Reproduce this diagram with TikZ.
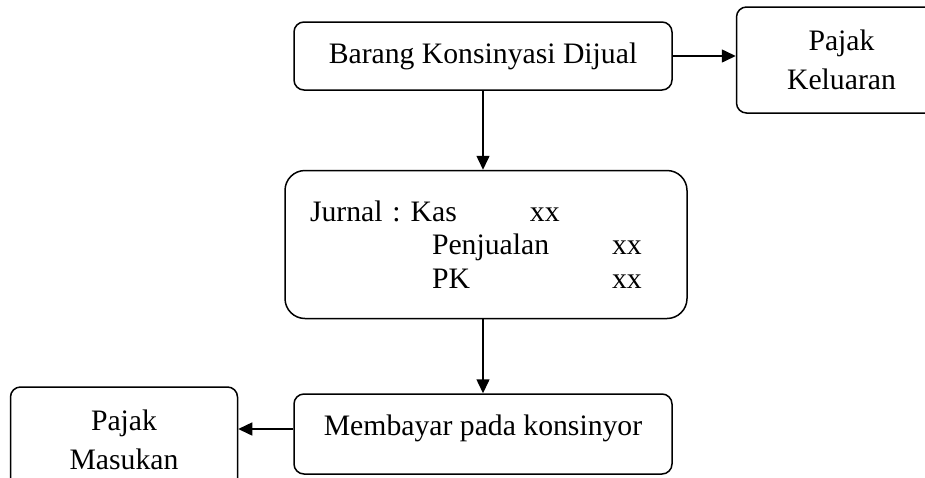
\documentclass[tikz,border=0pt]{standalone}
\usepackage{fontspec}
\setmainfont{Liberation Serif}
\usetikzlibrary{arrows.meta,positioning}
\begin{document}
\frenchspacing
\begin{tikzpicture}[
  x=0.5pt,y=-0.5pt,
  >=Triangle,
  flowbox/.style={rectangle,rounded corners=5pt,draw=black,line width=0.75pt,
    align=center,inner sep=0pt,font=\fontsize{14.85pt}{19.75pt}\selectfont},
  jurnalbox/.style={flowbox,rounded corners=10pt,align=left,text width=176pt,
    inner xsep=12.5pt,minimum height=74pt,
    font=\fontsize{14.85pt}{16.75pt}\selectfont},
  arrow/.style={-{Triangle[length=7pt,width=6.5pt]},line width=0.75pt}
]
% ── Bingkai gambar ──────────────────────────────────────────────────────────
\useasboundingbox (0,0) rectangle (925,477);
\clip (0,0) rectangle (925,477);

% ── Node alur ───────────────────────────────────────────────────────────────
\node[flowbox,minimum width=189pt,minimum height=34pt]
  (dijual) at (483,56) {Barang Konsinyasi Dijual};
\node[flowbox,minimum width=105pt,minimum height=53pt,right=31.5pt of dijual,yshift=-2pt]
  (keluaran) {Pajak\\Keluaran};
\node[jurnalbox,below=39.5pt of dijual,xshift=1.5pt]
  (jurnal) {\makebox[110pt][l]{Jurnal : Kas}xx\\
            \hspace*{61pt}\makebox[90pt][l]{Penjualan}xx\\
            \hspace*{61pt}\makebox[90pt][l]{PK}xx};
\node[flowbox,minimum width=189pt,minimum height=40pt,text depth=9pt,
  below=37pt of jurnal,xshift=-1.5pt]
  (bayar) {Membayar pada konsinyor};
\node[flowbox,minimum width=113.5pt,minimum height=53pt,left=27.5pt of bayar,yshift=-3pt]
  (masukan) {Pajak\\Masukan};

% ── Panah ───────────────────────────────────────────────────────────────────
\draw[arrow] (dijual.east) -- (dijual.east -| keluaran.west);
\draw[arrow] (dijual.south) -- (dijual |- jurnal.north);
\draw[arrow] (bayar |- jurnal.south) -- (bayar.north);
\draw[arrow] ([yshift=2.5pt]bayar.west) -- ([yshift=2.5pt]bayar.west -| masukan.east);
\end{tikzpicture}
\end{document}
